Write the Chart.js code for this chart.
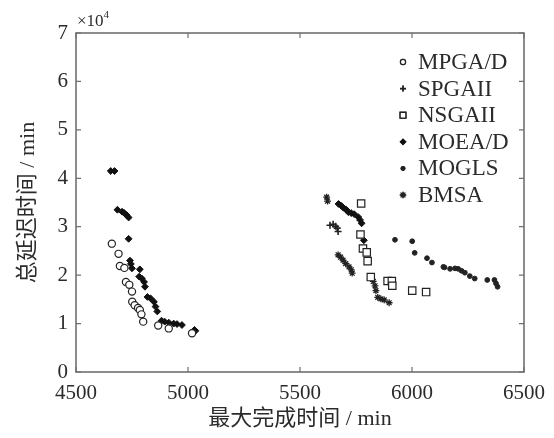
<!DOCTYPE html>
<html>
<head>
<meta charset="utf-8">
<script src="https://cdn.jsdelivr.net/npm/chart.js@4/dist/chart.umd.min.js"></script>
<style>
  html, body { margin: 0; padding: 0; background: #fff; }
  #wrap { width: 554px; height: 438px; }
</style>
</head>
<body>
<div id="wrap"><canvas id="paretoChart" width="554" height="438"></canvas></div>
<script>
// values, y in units of 10^4 min
const seriesNames = ['MPGA/D', 'SPGAII', 'NSGAII', 'MOEA/D', 'MOGLS', 'BMSA'];

const mpgaX = [4660, 4690, 4696, 4716, 4723, 4738, 4750, 4751, 4762, 4777, 4785, 4792, 4800, 4867, 4914, 5018];
const mpgaY = [2.65, 2.44, 2.19, 2.15, 1.86, 1.80, 1.66, 1.45, 1.38, 1.32, 1.28, 1.19, 1.04, 0.96, 0.90, 0.80];

const spgaX = [5634, 5648, 5659, 5666, 5670];
const spgaY = [3.03, 3.05, 3.01, 2.97, 2.90];

const nsgaX = [5773, 5770, 5781, 5798, 5802, 5816, 5891, 5910, 5912, 6001, 6063];
const nsgaY = [3.48, 2.84, 2.55, 2.47, 2.29, 1.96, 1.88, 1.88, 1.78, 1.68, 1.65];

const moeaX = [4655, 4672, 4685, 4706, 4716, 4726, 4735, 4735, 4741, 4745, 4750, 4785, 4782, 4794, 4804, 4808,
               4819, 4833, 4848, 4855, 4863, 4882, 4896, 4914, 4936, 4951, 4973, 5029, 5033,
               5672, 5685, 5694, 5707, 5716, 5729, 5742, 5760, 5768, 5775, 5785];
const moeaY = [4.15, 4.15, 3.35, 3.31, 3.28, 3.24, 3.19, 2.75, 2.30, 2.23, 2.14, 2.12, 1.97, 1.93, 1.86, 1.76,
               1.55, 1.52, 1.45, 1.35, 1.25, 1.06, 1.04, 1.02, 1.00, 0.99, 0.97, 0.87, 0.85,
               3.47, 3.43, 3.39, 3.35, 3.30, 3.28, 3.26, 3.20, 3.14, 3.07, 2.72];

const moglsX = [5924, 6001, 6012, 6067, 6089, 6140, 6145, 6170, 6192, 6206, 6221, 6236, 6258, 6280, 6336, 6368, 6375, 6382];
const moglsY = [2.73, 2.70, 2.46, 2.35, 2.26, 2.17, 2.16, 2.13, 2.14, 2.13, 2.09, 2.05, 1.98, 1.93, 1.90, 1.90, 1.83, 1.76];

const bmsaX = [5619, 5623, 5670, 5681, 5692, 5704, 5719, 5729, 5733, 5827, 5835, 5839, 5847, 5861, 5876, 5898];
const bmsaY = [3.61, 3.53, 2.42, 2.37, 2.31, 2.24, 2.17, 2.11, 2.04, 1.87, 1.78, 1.68, 1.54, 1.51, 1.49, 1.43];

const xTicks = [4500, 5000, 5500, 6000, 6500];
const yTicks = [0, 1, 2, 3, 4, 5, 6, 7];

function toPoints(xs, ys) {
    return xs.map((x, i) => ({ x: x, y: ys[i] }));
}

const serif = "'Liberation Serif', 'Noto Sans CJK SC', serif";
const textColor = '#2b2b2b';
const frameColor = '#707070';

// frame, inward ticks, x10^4 label and the legend inside the plot
const framePlugin = {
    id: 'framePlugin',
    afterDraw(chart) {
        const ctx = chart.ctx;
        const area = chart.chartArea;
        const xs = chart.scales.x;
        const ys = chart.scales.y;
        ctx.save();
        ctx.strokeStyle = frameColor;
        ctx.lineWidth = 1.6;
        ctx.strokeRect(area.left, area.top, area.right - area.left, area.bottom - area.top);
        ctx.lineWidth = 1.2;
        ctx.beginPath();
        xTicks.forEach(v => {
            const px = xs.getPixelForValue(v);
            ctx.moveTo(px, area.bottom); ctx.lineTo(px, area.bottom - 5);
            ctx.moveTo(px, area.top); ctx.lineTo(px, area.top + 5);
        });
        yTicks.forEach(v => {
            const py = ys.getPixelForValue(v);
            ctx.moveTo(area.left, py); ctx.lineTo(area.left + 5, py);
            ctx.moveTo(area.right, py); ctx.lineTo(area.right - 5, py);
        });
        ctx.stroke();

        // x10^4 multiplier
        ctx.fillStyle = textColor;
        ctx.textBaseline = 'alphabetic';
        ctx.textAlign = 'left';
        ctx.font = "17px " + serif;
        ctx.fillText('\u00d710', area.left + 1, area.top - 7);
        const w = ctx.measureText('\u00d710').width;
        ctx.font = "11px " + serif;
        ctx.fillText('4', area.left + 1 + w, area.top - 15);

        // legend
        const lx = 403, ly0 = 62, step = 26.6;
        chart.data.datasets.forEach((ds, i) => {
            const y = ly0 + i * step;
            Chart.helpers.drawPoint(ctx, {
                pointStyle: ds.pointStyle,
                radius: ds.legendRadius,
                borderWidth: ds.borderWidth
            }, lx, y);
            ctx.fillStyle = ds.backgroundColor;
            ctx.strokeStyle = ds.borderColor;
            ctx.lineWidth = ds.borderWidth;
            if (ds.pointStyle !== 'cross' && ds.pointStyle !== 'star') ctx.fill();
            ctx.stroke();
            ctx.fillStyle = textColor;
            ctx.font = "23px " + serif;
            ctx.textBaseline = 'middle';
            ctx.fillText(ds.label, lx + 15, y + 1);
        });
        ctx.restore();
    }
};

const ctx = document.getElementById('paretoChart').getContext('2d');
const paretoChart = new Chart(ctx, {
    type: 'scatter',
    data: {
        datasets: [{
            label: seriesNames[0],
            data: toPoints(mpgaX, mpgaY),
            pointStyle: 'circle',
            pointRadius: 3.6,
            legendRadius: 2.6,
            borderWidth: 1.2,
            borderColor: '#222',
            backgroundColor: '#fff'
        }, {
            label: seriesNames[1],
            data: toPoints(spgaX, spgaY),
            pointStyle: 'cross',
            pointRadius: 3.5,
            legendRadius: 3,
            borderWidth: 1.6,
            borderColor: '#222',
            backgroundColor: '#222'
        }, {
            label: seriesNames[2],
            data: toPoints(nsgaX, nsgaY),
            pointStyle: 'rect',
            pointRadius: 5.2,
            legendRadius: 4,
            borderWidth: 1.2,
            borderColor: '#222',
            backgroundColor: '#fff'
        }, {
            label: seriesNames[3],
            data: toPoints(moeaX, moeaY),
            pointStyle: 'rectRot',
            pointRadius: 3.4,
            legendRadius: 2.8,
            borderWidth: 1,
            borderColor: '#111',
            backgroundColor: '#111'
        }, {
            label: seriesNames[4],
            data: toPoints(moglsX, moglsY),
            pointStyle: 'circle',
            pointRadius: 2.4,
            legendRadius: 2,
            borderWidth: 1,
            borderColor: '#222',
            backgroundColor: '#222'
        }, {
            label: seriesNames[5],
            data: toPoints(bmsaX, bmsaY),
            pointStyle: 'star',
            pointRadius: 3.4,
            legendRadius: 3.2,
            borderWidth: 1.3,
            borderColor: '#222',
            backgroundColor: '#222'
        }]
    },
    options: {
        responsive: false,
        animation: false,
        layout: {
            padding: { left: 0, right: 24, top: 33, bottom: 0 }
        },
        plugins: {
            legend: { display: false },
            tooltip: { enabled: false }
        },
        scales: {
            x: {
                type: 'linear',
                min: 4500,
                max: 6500,
                afterFit: (scale) => { scale.height = 66; },
                afterBuildTicks: (scale) => { scale.ticks = xTicks.map(v => ({ value: v })); },
                grid: { display: false, drawTicks: false },
                border: { display: false },
                ticks: {
                    padding: 9,
                    color: textColor,
                    font: { family: serif, size: 21 },
                    maxRotation: 0,
                    callback: (v) => String(v)
                },
                title: {
                    display: true,
                    text: '最大完成时间 / min',
                    color: textColor,
                    font: { family: serif, size: 22 },
                    padding: { top: 0, bottom: 6 }
                }
            },
            y: {
                type: 'linear',
                min: 0,
                max: 7,
                afterFit: (scale) => { scale.width = 76; },
                afterBuildTicks: (scale) => { scale.ticks = yTicks.map(v => ({ value: v })); },
                grid: { display: false, drawTicks: false },
                border: { display: false },
                ticks: {
                    padding: 8,
                    color: textColor,
                    font: { family: serif, size: 21 },
                    callback: (v) => String(v)
                },
                title: {
                    display: true,
                    text: '总延迟时间 / min',
                    color: textColor,
                    font: { family: serif, size: 22 },
                    padding: { top: 15, bottom: 0 }
                }
            }
        }
    },
    plugins: [framePlugin]
});
</script>
</body>
</html>
